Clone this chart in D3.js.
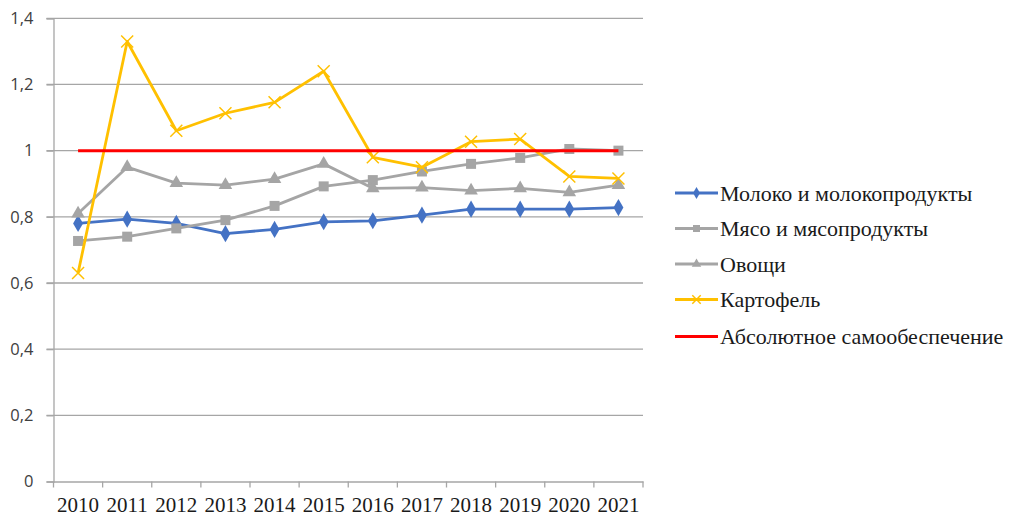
<!DOCTYPE html>
<html><head><meta charset="utf-8">
<script src="https://cdn.jsdelivr.net/npm/d3@7"></script>
<style>body{margin:0;background:#fff}svg{display:block}</style>
</head><body>
<script>
const years = ["2010","2011","2012","2013","2014","2015","2016","2017","2018","2019","2020","2021"];
const milk = [0.78,0.793,0.78,0.749,0.762,0.785,0.788,0.805,0.823,0.823,0.823,0.828];
const meat = [0.727,0.74,0.765,0.79,0.833,0.892,0.911,0.937,0.96,0.978,1.005,1.0];
const vegetables = [0.81,0.95,0.902,0.896,0.914,0.96,0.886,0.888,0.879,0.886,0.874,0.896];
const potato = [0.63,1.33,1.06,1.113,1.146,1.24,0.98,0.95,1.027,1.035,0.922,0.916];
const absolute = [1,1,1,1,1,1,1,1,1,1,1,1];
const yTicks = [0,0.2,0.4,0.6,0.8,1.0,1.2,1.4];
const seriesNames = ["Молоко и молокопродукты","Мясо и мясопродукты","Овощи","Картофель","Абсолютное самообеспечение"];

const series = [
  {name: seriesNames[0], values: milk, color: "#4472C4", marker: "diamond"},
  {name: seriesNames[1], values: meat, color: "#A5A5A5", marker: "square"},
  {name: seriesNames[2], values: vegetables, color: "#A5A5A5", marker: "triangle"},
  {name: seriesNames[3], values: potato, color: "#FFC000", marker: "x"},
  {name: seriesNames[4], values: absolute, color: "#FF0000", marker: null}
];

const W = 1009, H = 517;
const svg = d3.select("body").append("svg").attr("width", W).attr("height", H);
const mLeft = 53.5, mRight = 643, mTop = 18.3, mBottom = 481.5;

const x = d3.scaleBand().domain(years).range([mLeft, mRight]);
const y = d3.scaleLinear().domain([0, 1.4]).range([mBottom, mTop]);
const cx = d => x(d) + x.bandwidth() / 2;

// gridlines
svg.append("g").selectAll("line").data(yTicks.filter(t => t > 0)).join("line")
  .attr("x1", mLeft - 7).attr("x2", mRight)
  .attr("y1", d => y(d)).attr("y2", d => y(d))
  .attr("stroke", "#a6a6a6").attr("stroke-width", 1.3);

// y axis
const yAxis = d3.axisLeft(y).tickValues(yTicks).tickSize(7).tickPadding(13)
  .tickFormat(d => d3.format("~g")(d).replace(".", ","));
const gy = svg.append("g").attr("transform", `translate(${mLeft},0)`).call(yAxis);
gy.select(".domain").attr("stroke", "#a6a6a6").attr("stroke-width", 1.3);
gy.selectAll(".tick line").attr("stroke", "#a6a6a6").attr("stroke-width", 1.3);
gy.selectAll("text").attr("font-family", "'Open Sans', 'Liberation Sans', sans-serif")
  .attr("font-size", 16.5).attr("fill", "#404040");

// x axis
const xAxis = d3.axisBottom(x).tickSize(0).tickPadding(16);
const gx = svg.append("g").attr("transform", `translate(0,${mBottom})`).call(xAxis);
gx.select(".domain").attr("stroke", "#a6a6a6").attr("stroke-width", 1.3);
gx.selectAll("text").attr("font-family", "'Liberation Serif', 'Times New Roman', serif")
  .attr("font-size", 21).attr("fill", "#1a1a1a").attr("dy", "0.71em");
// tick marks at band boundaries
const bounds = years.map(d => x(d)).concat([mRight]);
gx.append("g").selectAll("line").data(bounds).join("line")
  .attr("x1", d => d).attr("x2", d => d).attr("y1", 0).attr("y2", 6)
  .attr("stroke", "#a6a6a6").attr("stroke-width", 1.3);

const symbolFor = m => m === "diamond" ? d3.symbolDiamond : m === "square" ? d3.symbolSquare : m === "triangle" ? d3.symbolTriangle : d3.symbolCross;
const sizeFor = m => m === "diamond" ? 85 : m === "square" ? 100 : m === "triangle" ? 80 : 0;

function drawMarker(g, m, color, px, py, scale) {
  scale = scale || 1;
  if (m === "x") {
    const s = 6 * scale;
    g.append("path").attr("d", `M${px - s},${py - s}L${px + s},${py + s}M${px - s},${py + s}L${px + s},${py - s}`)
      .attr("stroke", color).attr("stroke-width", 1.5).attr("fill", "none");
  } else {
    g.append("path").attr("d", d3.symbol().type(symbolFor(m)).size(sizeFor(m) * scale * scale)())
      .attr("transform", `translate(${px},${py})`).attr("fill", color);
  }
}

const line = d3.line().x((d, i) => cx(years[i])).y(d => y(d));
const plot = svg.append("g");
series.forEach((s) => {
  plot.append("path").datum(s.values).attr("d", line)
    .attr("fill", "none").attr("stroke", s.color).attr("stroke-width", s.marker ? 2.8 : 3)
    .attr("stroke-linejoin", "round");
  if (s.marker) {
    s.values.forEach((v, i) => drawMarker(plot, s.marker, s.color, cx(years[i]), y(v)));
  }
});

// legend
const legY = [193, 228.5, 264, 299.5, 336.5];
const lg = svg.append("g");
series.forEach((s, i) => {
  const yy = legY[i];
  lg.append("line").attr("x1", 675).attr("x2", 718).attr("y1", yy).attr("y2", yy)
    .attr("stroke", s.color).attr("stroke-width", 2.8);
  if (s.marker) drawMarker(lg, s.marker, s.color, 696.5, yy, 0.7);
  lg.append("text").attr("x", 720).attr("y", yy).attr("dy", "0.35em")
    .attr("font-family", "'Liberation Serif', 'Times New Roman', serif")
    .attr("font-size", 22).attr("fill", "#1a1a1a").text(s.name);
});
</script>
</body></html>
